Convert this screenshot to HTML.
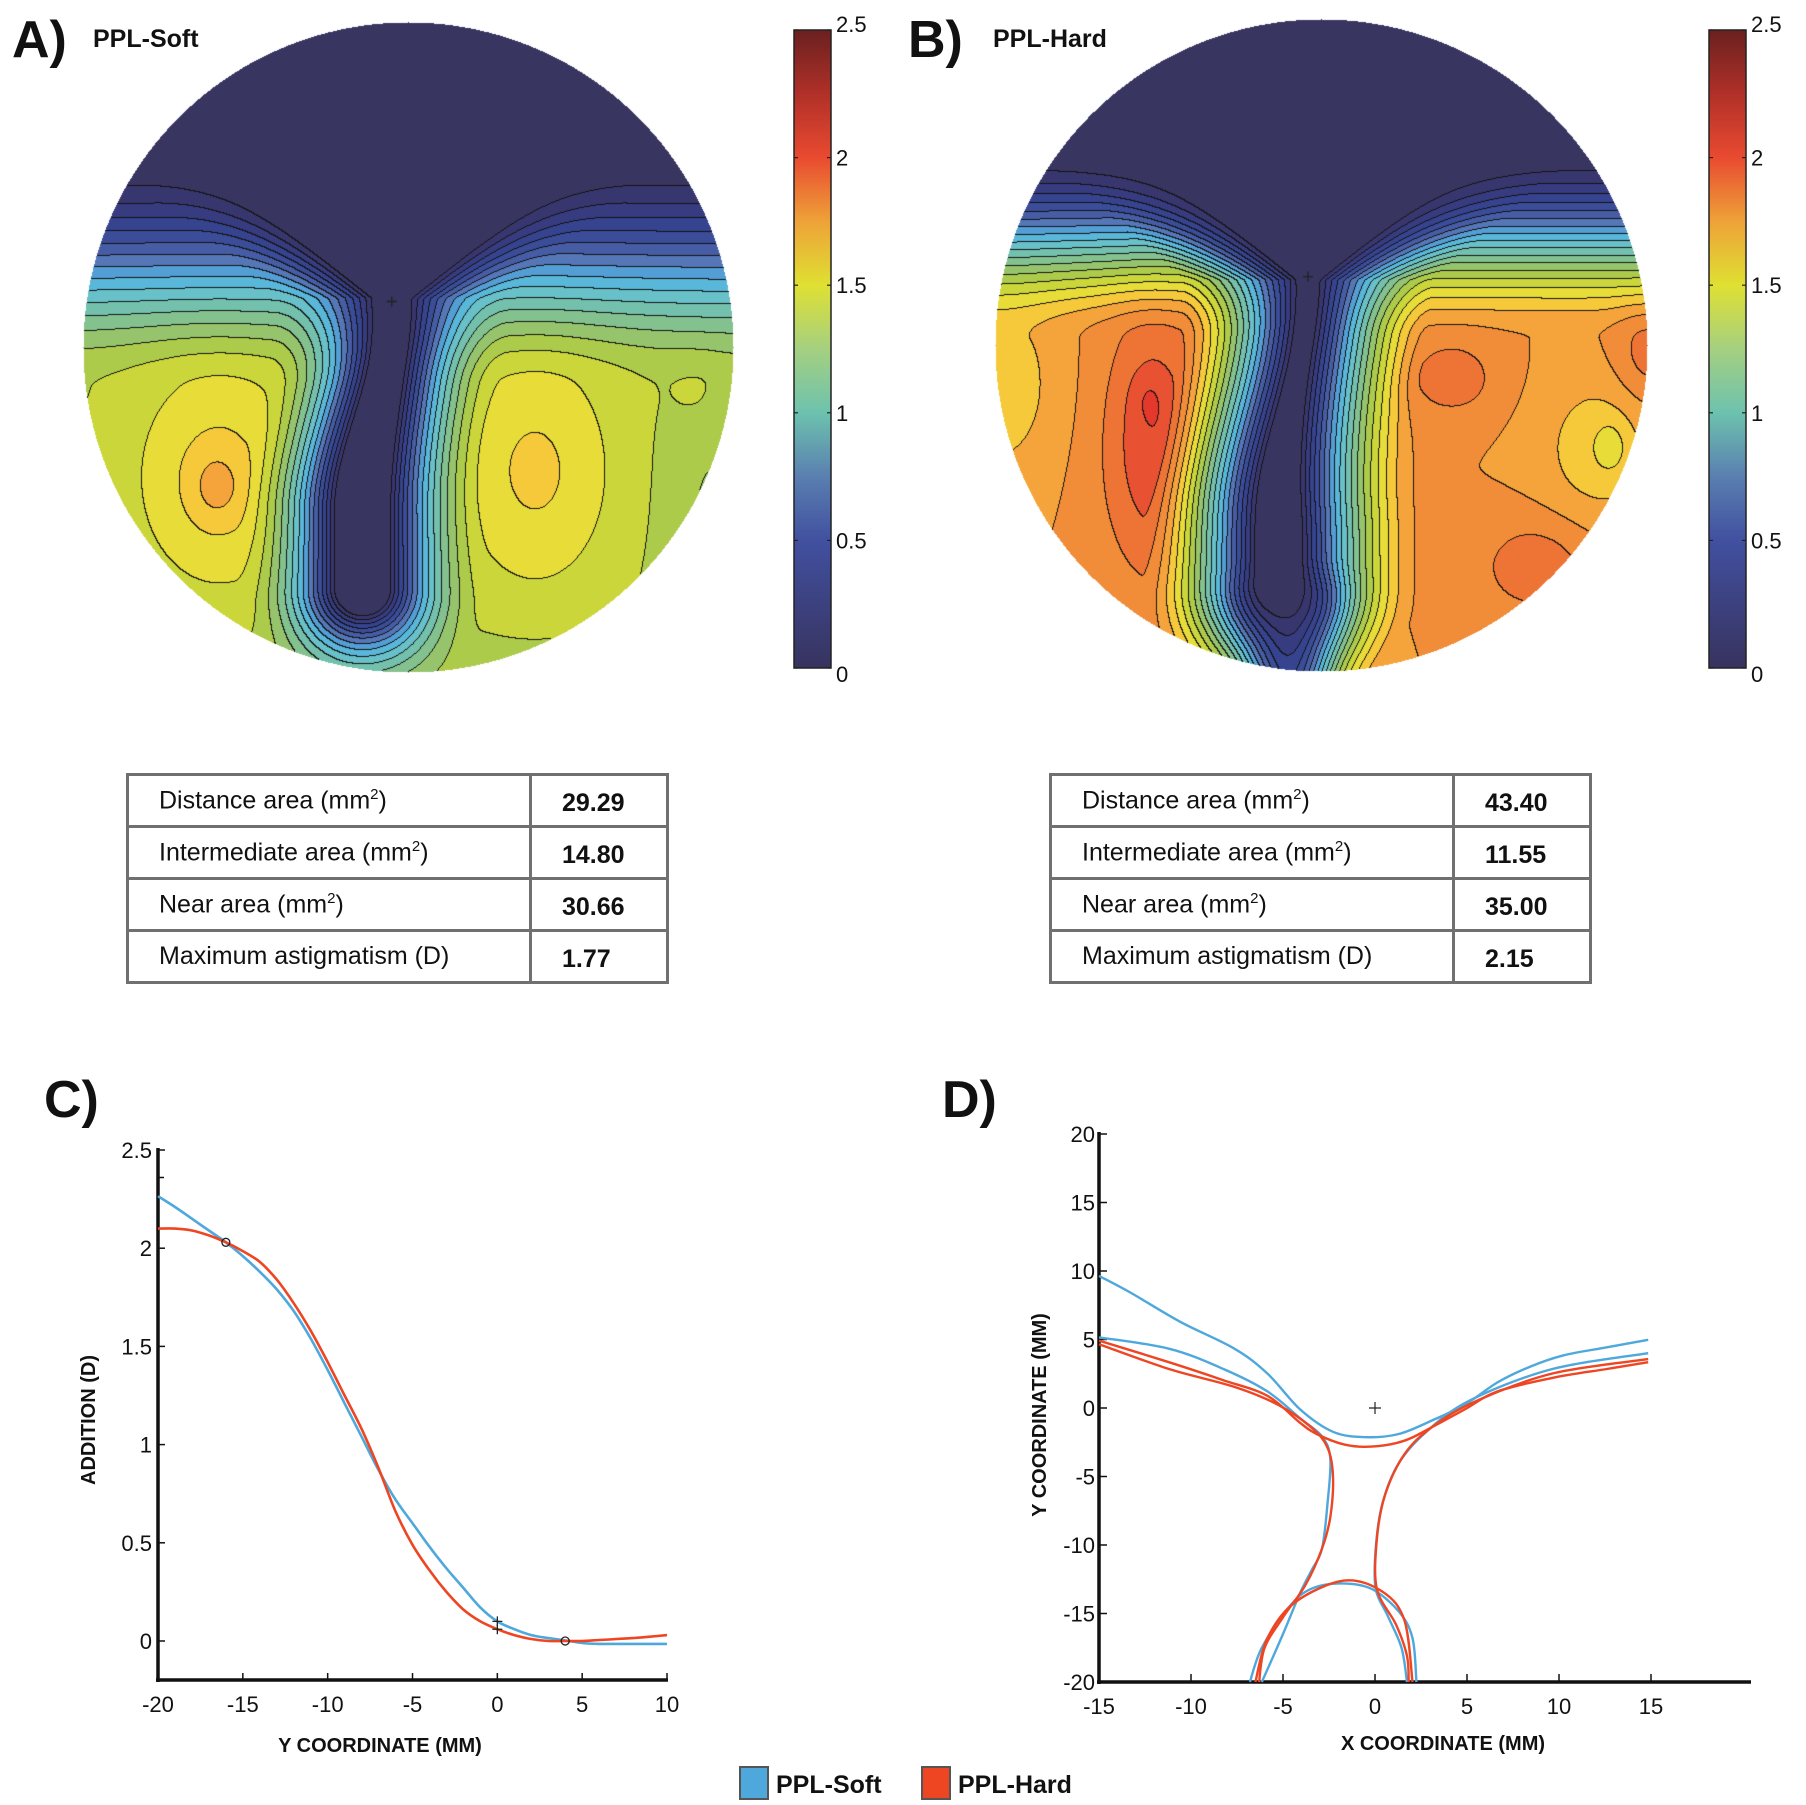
<!DOCTYPE html>
<html><head><meta charset="utf-8">
<style>
body{margin:0;background:#fff;width:1806px;height:1805px;position:relative;overflow:hidden;font-family:"Liberation Sans",sans-serif;color:#111}
.abs{position:absolute}
.ttl{font-weight:bold;font-size:52px;line-height:52px}
.sub{font-weight:bold;font-size:25px}
table{position:absolute;border-collapse:collapse;font-size:25px}
td{border:3px solid #707070;height:43px;padding:0}
td.l{padding-left:30px;width:370px}
td.v{padding-left:30px;font-weight:bold;padding-top:6px}
</style></head>
<body>
<div class="abs ttl" style="left:12px;top:14px">A)</div>
<div class="abs sub" style="left:93px;top:25px">PPL-Soft</div>
<div class="abs ttl" style="left:908px;top:14px">B)</div>
<div class="abs sub" style="left:993px;top:25px">PPL-Hard</div>
<div class="abs ttl" style="left:44px;top:1074px">C)</div>
<div class="abs ttl" style="left:942px;top:1074px">D)</div>

<canvas id="mapA" class="abs" width="652" height="652" style="left:82px;top:21px"></canvas>
<canvas id="mapB" class="abs" width="654" height="654" style="left:994px;top:18px"></canvas>

<svg class="abs" style="left:0;top:0" width="1806" height="1805" id="ov">
<defs><linearGradient id="cb" x1="0" y1="1" x2="0" y2="0">
<stop offset="0" stop-color="#37335e"/><stop offset="0.2" stop-color="#4150a0"/><stop offset="0.3" stop-color="#5a7fb0"/><stop offset="0.4" stop-color="#6dc2ae"/><stop offset="0.5" stop-color="#a5d080"/><stop offset="0.6" stop-color="#dfe032"/><stop offset="0.7" stop-color="#eea238"/><stop offset="0.8" stop-color="#e94a30"/><stop offset="0.9" stop-color="#b03028"/><stop offset="1" stop-color="#6a2020"/></linearGradient></defs>
</svg>

<table style="left:126px;top:773px;width:543px">
<tr><td class="l">Distance area (mm<sup style="font-size:15px">2</sup>)</td><td class="v">29.29</td></tr>
<tr><td class="l">Intermediate area (mm<sup style="font-size:15px">2</sup>)</td><td class="v">14.80</td></tr>
<tr><td class="l">Near area (mm<sup style="font-size:15px">2</sup>)</td><td class="v">30.66</td></tr>
<tr><td class="l">Maximum astigmatism (D)</td><td class="v">1.77</td></tr>
</table>
<table style="left:1049px;top:773px;width:543px">
<tr><td class="l">Distance area (mm<sup style="font-size:15px">2</sup>)</td><td class="v">43.40</td></tr>
<tr><td class="l">Intermediate area (mm<sup style="font-size:15px">2</sup>)</td><td class="v">11.55</td></tr>
<tr><td class="l">Near area (mm<sup style="font-size:15px">2</sup>)</td><td class="v">35.00</td></tr>
<tr><td class="l">Maximum astigmatism (D)</td><td class="v">2.15</td></tr>
</table>

<div class="abs" style="left:739px;top:1766px;width:30px;height:34px;background:#4fa8dc;border:2px solid #555;box-sizing:border-box"></div>
<div class="abs sub" style="left:776px;top:1771px">PPL-Soft</div>
<div class="abs" style="left:921px;top:1766px;width:30px;height:34px;background:#ee4523;border:2px solid #555;box-sizing:border-box"></div>
<div class="abs sub" style="left:958px;top:1771px">PPL-Hard</div>

<script>
// ---------- Chart C data ----------
const cY = [-20,-19,-18,-17,-16,-15,-14,-13,-12,-11,-10,-9,-8,-7,-6,-5,-4,-3,-2,-1,0,1,2,3,4,5,6,7,8,9,10];
const cSoft = [2.265,2.21,2.15,2.09,2.03,1.96,1.88,1.79,1.68,1.54,1.38,1.21,1.04,0.87,0.72,0.60,0.48,0.37,0.27,0.17,0.10,0.06,0.03,0.015,0.003,-0.01,-0.015,-0.015,-0.015,-0.015,-0.015];
const cHard = [2.10,2.10,2.09,2.065,2.03,1.985,1.93,1.84,1.72,1.58,1.42,1.25,1.08,0.88,0.66,0.49,0.36,0.25,0.16,0.10,0.06,0.03,0.01,0.0,0.0,0.0,0.005,0.01,0.015,0.022,0.03];
const cYTicks = [0,0.5,1,1.5,2,2.5];
const cYTickLabels = ["0","0.5","1","1.5","2","2.5"];
const cXTicks = [-20,-15,-10,-5,0,5,10];
// ---------- Chart D data (iso-lines, x/y mm) ----------
const dSoft1X = [-15,-13.3,-10.6,-7.64,-5.85,-4.07,-2.28,-0.49,1.29,3.08,4.87,6.66,8.44,10.23,12.6,14.85];
const dSoft1Y = [9.64,8.43,6.3,4.33,2.52,-0.1,-1.74,-2.13,-1.9,-0.92,0.23,1.87,3.02,3.84,4.43,4.98];
const dSoft2X = [-15,-11.2,-8.24,-5.85,-4.07,-2.88,-2.43,-2.58,-2.88,-3.47,-4.07,-5.0,-6.15];
const dSoft2Y = [5.15,4.33,2.85,1.21,-0.75,-2.07,-3.7,-6.98,-10.26,-11.9,-13.5,-16.5,-20];
const dSoft3X = [14.85,9.64,5.17,2.79,1.29,0.4,0.04,0.04,0.7,1.44,1.74];
const dSoft3Y = [4.0,2.85,0.56,-1.74,-4.03,-6.98,-10.26,-13.2,-15.2,-17.5,-20];
const dSoft4X = [-6.8,-6.15,-4.66,-3.47,-1.83,-0.19,1.29,2.04,2.25];
const dSoft4Y = [-20,-17.5,-14.5,-13.2,-12.8,-13.2,-14.85,-16.8,-20];
const dHard1X = [-15,-11.2,-8.24,-5.85,-4.07,-3.17,-1.69,-0.19,1.6,3.08,4.87,6.66,9.64,12.6,14.85];
const dHard1Y = [4.92,3.34,2.03,0.89,-1.08,-1.9,-2.66,-2.82,-2.39,-1.41,-0.1,1.21,2.2,2.85,3.34];
const dHard2X = [-15,-11.2,-7.64,-5.26,-3.47,-2.58,-2.28,-2.43,-2.88,-3.77,-4.96,-6.0,-6.3];
const dHard2Y = [4.66,2.85,1.54,0.23,-1.41,-2.89,-5.02,-7.97,-10.26,-12.9,-15.2,-17.5,-20];
const dHard3X = [14.85,9.64,5.47,3.08,1.6,0.55,0.1,0.1,1.14,1.74,1.83];
const dHard3Y = [3.57,2.52,0.49,-1.41,-3.38,-6.33,-9.6,-13.2,-15.8,-18.1,-20];
const dHard4X = [-6.5,-5.85,-4.36,-1.69,0.4,1.6,2.04];
const dHard4Y = [-20,-16.8,-14.2,-12.6,-13.4,-15.5,-20];
const dTicks = [-20,-15,-10,-5,0,5,10,15,20];
const dXTicks = [-15,-10,-5,0,5,10,15];
const cbTicks = [0,0.5,1,1.5,2,2.5];

const NS="http://www.w3.org/2000/svg";
const ov=document.getElementById('ov');
function mk(tag,attrs,parent){const e=document.createElementNS(NS,tag);for(const k in attrs)e.setAttribute(k,attrs[k]);(parent||ov).appendChild(e);return e;}
function txt(s,x,y,size,anchor,parent,weight){const t=mk('text',{x:x,y:y,'font-size':size,'text-anchor':anchor||'middle','font-family':'Liberation Sans, sans-serif','fill':'#111'},parent);if(weight)t.setAttribute('font-weight',weight);t.textContent=s;return t;}
function crPath(pts){let d='M'+pts[0][0].toFixed(1)+','+pts[0][1].toFixed(1);for(let i=0;i<pts.length-1;i++){const p0=pts[Math.max(0,i-1)],p1=pts[i],p2=pts[i+1],p3=pts[Math.min(pts.length-1,i+2)];const c1=[p1[0]+(p2[0]-p0[0])/6,p1[1]+(p2[1]-p0[1])/6],c2=[p2[0]-(p3[0]-p1[0])/6,p2[1]-(p3[1]-p1[1])/6];d+='C'+c1[0].toFixed(1)+','+c1[1].toFixed(1)+' '+c2[0].toFixed(1)+','+c2[1].toFixed(1)+' '+p2[0].toFixed(1)+','+p2[1].toFixed(1);}return d;}

// ---------- Colorbars ----------
function colorbar(x0,name){
  const g=mk('g',{});
  
  
  const top=30,bot=668,w=37;
  mk('rect',{x:x0,y:top,width:w,height:bot-top,fill:'url(#cb)',stroke:'#222','stroke-width':1.5},g);
  cbTicks.forEach(v=>{const y=bot-(v/2.5)*(bot-top);
    mk('line',{x1:x0,x2:x0+4,y1:y,y2:y,stroke:'#222','stroke-width':1.2},g);
    mk('line',{x1:x0+w-4,x2:x0+w,y1:y,y2:y,stroke:'#222','stroke-width':1.2},g);
    const t=txt(String(v),x0+w+5,y+(v===0?14:v===2.5?2:8),22,'start',g);
    
    });
}
colorbar(794,'colorbar-soft');
colorbar(1709,'colorbar-hard');

// ---------- Maps ----------
const stops=[[0,'#383561'],[0.1,'#383561'],[0.2,'#37387a'],[0.35,'#36438f'],[0.5,'#3e509d'],[0.65,'#5577b8'],[0.8,'#52b2e2'],[0.95,'#68c0c8'],[1.1,'#79c0a0'],[1.25,'#96c46c'],[1.4,'#b9ce3a'],[1.5,'#dade38'],[1.6,'#f6db3a'],[1.75,'#f4a43a'],[1.95,'#ee7435'],[2.05,'#e85232'],[2.15,'#e4382c'],[2.5,'#6a2020']];
const stopRGB=stops.map(s=>[s[0],parseInt(s[1].substr(1,2),16),parseInt(s[1].substr(3,2),16),parseInt(s[1].substr(5,2),16)]);
function cmap(v){if(v<=stopRGB[0][0])return stopRGB[0].slice(1);for(let i=1;i<stopRGB.length;i++){if(v<=stopRGB[i][0]){const a=stopRGB[i-1],b=stopRGB[i],t=(v-a[0])/(b[0]-a[0]);return [a[1]+(b[1]-a[1])*t,a[2]+(b[2]-a[2])*t,a[3]+(b[3]-a[3])*t];}}return stopRGB[stopRGB.length-1].slice(1);}
const cl=(x)=>Math.max(0,Math.min(1,x));
function sm(a,b,x){const t=cl((x-a)/(b-a));return t*t*(3-2*t);}
function G(dx,dy,sx,sy){return Math.exp(-(dx*dx/(sx*sx)+dy*dy/(sy*sy)));}
function fieldA(u,v){
  let S=1.38*sm(-0.62,0.12,v);
  S+=0.25*G(u+0.58,v-0.40,0.28,0.38)+0.12*G(u+0.59,v-0.43,0.08,0.11)+0.24*G(u-0.39,v-0.38,0.26,0.4)-0.1*G(u-0.95,v-0.5,0.15,0.4)+0.06*G(u-0.9,v-0.15,0.1,0.15)-0.05*sm(0.8,1,v);
  const uc=-0.05-0.09*sm(-0.1,0.5,v),tip=0.74;
  const dy=v>tip?v-tip:0,dx=u-uc;const d=Math.sqrt(dx*dx+dy*dy);
  const d0=0.045+0.03*sm(0,0.5,v)+Math.max(0,-0.15-v)*1.2;
  const t=cl((d-d0)/0.32);const m=1-(1-t)*(1-t);
  return Math.max(0,S*m);
}
function fieldB(u,v){
  let S=1.8*sm(-0.62,-0.02,v);
  S+=-0.17*G(u+1.0,v-0.12,0.2,0.3)+0.17*G(u+0.5,v-0.3,0.2,0.45)+0.12*G(u+0.52,v-0.3,0.12,0.35)+0.06*G(u+0.53,v-0.16,0.05,0.08);
  S+=0.17*G(u-0.40,v-0.10,0.14,0.12)+0.17*G(u-0.66,v-0.68,0.18,0.15)+0.15*G(u-1.0,v-0.03,0.1,0.15)-0.17*G(u-0.85,v-0.32,0.17,0.22)-0.1*G(u-0.89,v-0.31,0.05,0.08);
  const uc=-0.04-0.09*sm(-0.2,0.5,v),tip=0.73;
  const dy=v>tip?v-tip:0,dx=u-uc;const d=Math.sqrt(dx*dx+dy*dy);
  const d0=0.02+0.04*sm(0,0.6,v)+Math.max(0,-0.2-v)*1.2;
  const t=cl((d-d0)/0.36);const m=1-Math.pow(1-t,1.5);
  const m2=1-0.72*Math.exp(-Math.pow((u-uc-0.03)/0.13,2))*sm(tip-0.1,tip+0.1,v);
  return Math.max(0,S*m*m2);
}
function drawMap(id,f,crossU,crossV){
  const c=document.getElementById(id),ctx=c.getContext('2d');const W=c.width,R=W/2-1;
  const img=ctx.createImageData(W,W);const idx=new Int16Array(W*W).fill(-1);
  for(let y=0;y<W;y++)for(let x=0;x<W;x++){const u=(x-W/2)/R,v=(y-W/2)/R;if(u*u+v*v<=1)idx[y*W+x]=Math.min(24,Math.floor(f(u,v)/0.1));}
  for(let y=0;y<W;y++)for(let x=0;x<W;x++){const k=y*W+x,i=idx[k];if(i<0)continue;
    let col=cmap((i+0.5)*0.1);
    const r=x+1<W?idx[k+1]:-1,b=y+1<W?idx[k+W]:-1;
    if((r>=0&&r!==i)||(b>=0&&b!==i))col=[20,20,20];
    img.data[k*4]=col[0];img.data[k*4+1]=col[1];img.data[k*4+2]=col[2];img.data[k*4+3]=255;}
  ctx.putImageData(img,0,0);
  const cx=W/2+crossU*R,cy=W/2+crossV*R;ctx.strokeStyle='#222';ctx.lineWidth=1.3;ctx.beginPath();ctx.moveTo(cx-5,cy);ctx.lineTo(cx+5,cy);ctx.moveTo(cx,cy-5);ctx.lineTo(cx,cy+5);ctx.stroke();
}
drawMap('mapA',fieldA,-0.05,-0.14);
drawMap('mapB',fieldB,-0.04,-0.21);

// ---------- Chart C ----------
const xC=v=>158+(v+20)*16.967, yC=a=>1641-a*196.4;
const gC=mk('g',{});


mk('line',{x1:158,x2:158,y1:1148,y2:1682,stroke:'#111','stroke-width':3.5},gC);
mk('line',{x1:156,x2:668,y1:1680,y2:1680,stroke:'#111','stroke-width':3.5},gC);
cYTicks.forEach((v,i)=>{const y=yC(v);mk('line',{x1:158,x2:165,y1:y,y2:y,stroke:'#111','stroke-width':1.5},gC);
  const t=txt(cYTickLabels[i],152,y+8,22,'end',gC);});
mk('line',{x1:158,x2:164,y1:yC(2.36),y2:yC(2.36),stroke:'#111','stroke-width':1.5},gC);
cXTicks.forEach(v=>{const x=xC(v);mk('line',{x1:x,x2:x,y1:1680,y2:1673,stroke:'#111','stroke-width':1.5},gC);
  const t=txt(String(v),x,1712,22,'middle',gC);});
const cxl=txt('Y COORDINATE (MM)',380,1752,20,'middle',gC,'bold');
const cyl=txt('ADDITION (D)',0,0,20,'middle',gC,'bold');cyl.setAttribute('transform','translate(95,1420) rotate(-90)');
const ps=mk('path',{d:crPath(cY.map((y,i)=>[xC(y),yC(cSoft[i])])),fill:'none',stroke:'#4fa8dc','stroke-width':2.6},gC);

const ph=mk('path',{d:crPath(cY.map((y,i)=>[xC(y),yC(cHard[i])])),fill:'none',stroke:'#ee4523','stroke-width':2.6},gC);

[[-16,2.03],[4,0]].forEach(p=>mk('circle',{cx:xC(p[0]),cy:yC(p[1]),r:4,fill:'none',stroke:'#222','stroke-width':1.3},gC));
[[0,0.1],[0,0.06]].forEach(p=>{const x=xC(p[0]),y=yC(p[1]);mk('path',{d:`M${x-5},${y}H${x+5}M${x},${y-5}V${y+5}`,stroke:'#222','stroke-width':1.3},gC);});

// ---------- Chart D ----------
const xD=v=>1375+v*18.4, yD=v=>1408-v*13.7;
const gD=mk('g',{});


mk('line',{x1:xD(-15),x2:xD(-15),y1:1132,y2:1684,stroke:'#111','stroke-width':3.5},gD);
mk('line',{x1:xD(-15)-2,x2:1751,y1:1682,y2:1682,stroke:'#111','stroke-width':3.5},gD);
dTicks.forEach(v=>{const y=yD(v);mk('line',{x1:xD(-15),x2:xD(-15)+8,y1:y,y2:y,stroke:'#111','stroke-width':1.5},gD);
  const t=txt(String(v),xD(-15)-4,y+8,22,'end',gD);});
dXTicks.forEach(v=>{const x=xD(v);mk('line',{x1:x,x2:x,y1:1682,y2:1674,stroke:'#111','stroke-width':1.5},gD);
  const t=txt(String(v),x,1714,22,'middle',gD);});
const dxl=txt('X COORDINATE (MM)',1443,1750,20,'middle',gD,'bold');
const dyl=txt('Y COORDINATE (MM)',0,0,20,'middle',gD,'bold');dyl.setAttribute('transform','translate(1046,1415) rotate(-90)');
const dLines=[[dSoft1X,dSoft1Y,'#4fa8dc','iso-soft-1'],[dSoft2X,dSoft2Y,'#4fa8dc','iso-soft-2'],[dSoft3X,dSoft3Y,'#4fa8dc','iso-soft-3'],[dSoft4X,dSoft4Y,'#4fa8dc','iso-soft-4'],
  [dHard1X,dHard1Y,'#ee4523','iso-hard-1'],[dHard2X,dHard2Y,'#ee4523','iso-hard-2'],[dHard3X,dHard3Y,'#ee4523','iso-hard-3'],[dHard4X,dHard4Y,'#ee4523','iso-hard-4']];
dLines.forEach(L=>{const p=mk('path',{d:crPath(L[0].map((x,i)=>[xD(x),yD(L[1][i])])),fill:'none',stroke:L[2],'stroke-width':2.4},gD);
  
  });
mk('path',{d:`M${xD(0)-6},${yD(0)}H${xD(0)+6}M${xD(0)},${yD(0)-6}V${yD(0)+6}`,stroke:'#222','stroke-width':1.2},gD);
</script>
</body></html>
